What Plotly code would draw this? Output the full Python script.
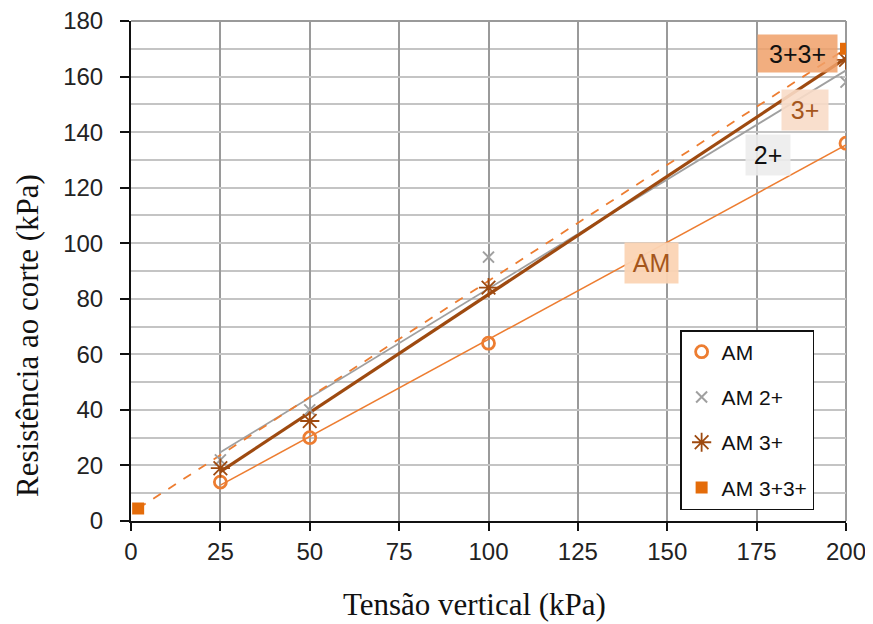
import numpy as np
import plotly.graph_objects as go

# ---- data ----
x_am = [25, 50, 100, 200]
y_am = [14, 30, 64, 136]

x_am2 = [25, 50, 100, 200]
y_am2 = [22, 40, 95, 158]

x_am3 = [25, 50, 100, 200]
y_am3 = [19, 36, 84, 166]

x_am33 = [2, 200]
y_am33 = [4.5, 170]

x_ticks = [0, 25, 50, 75, 100, 125, 150, 175, 200]
y_ticks = [0, 20, 40, 60, 80, 100, 120, 140, 160, 180]

C_AM = "#ED7D31"
C_AM2 = "#A0A0A0"
C_AM3 = "#9E4A10"
C_AM33 = "#E46C0A"


def trend(xs, ys):
    k, b = np.polyfit(xs, ys, 1)
    xe = [min(xs), max(xs)]
    return xe, [k * v + b for v in xe]


fig = go.Figure()

# trend lines
tx, ty = trend(x_am, y_am)
fig.add_trace(go.Scatter(x=tx, y=ty, mode="lines", line=dict(color=C_AM, width=1.5),
                         showlegend=False, hoverinfo="skip"))
tx, ty = trend(x_am2, y_am2)
fig.add_trace(go.Scatter(x=tx, y=ty, mode="lines", line=dict(color=C_AM2, width=1.8),
                         showlegend=False, hoverinfo="skip"))
tx, ty = trend(x_am3, y_am3)
fig.add_trace(go.Scatter(x=tx, y=ty, mode="lines", line=dict(color=C_AM3, width=3.2),
                         showlegend=False, hoverinfo="skip"))
tx, ty = trend(x_am33, y_am33)
fig.add_trace(go.Scatter(x=tx, y=ty, mode="lines", line=dict(color=C_AM, width=1.8, dash="dash"),
                         showlegend=False, hoverinfo="skip"))

# points
fig.add_trace(go.Scatter(x=x_am, y=y_am, mode="markers", name="AM", legendgroup="a",
                         marker=dict(symbol="circle-open", size=12, color=C_AM,
                                     line=dict(width=2.8, color=C_AM))))
fig.add_trace(go.Scatter(x=x_am2, y=y_am2, mode="markers", name="AM 2+", legendgroup="b",
                         marker=dict(symbol="x-thin-open", size=11, color=C_AM2,
                                     line=dict(width=2, color=C_AM2))))
fig.add_trace(go.Scatter(x=x_am3, y=y_am3, mode="markers", name="AM 3+", legendgroup="c",
                         marker=dict(symbol="asterisk-open", size=16, color=C_AM3,
                                     line=dict(width=1.8, color=C_AM3))))
fig.add_trace(go.Scatter(x=x_am33, y=y_am33, mode="markers", name="AM 3+3+", legendgroup="d",
                         marker=dict(symbol="square", size=12, color=C_AM33,
                                     line=dict(width=0))))

# labels (boxes)
labels = [
    dict(x=186.4, y=168.3, text="3+3+", w=79, h=37, bg="rgba(240,160,105,0.85)", fc="#111111"),
    dict(x=188.5, y=148.0, text="3+", w=46, h=40, bg="rgba(248,220,200,0.9)", fc="#A5561C"),
    dict(x=178.2, y=131.7, text="2+", w=44, h=40, bg="rgba(236,236,236,0.9)", fc="#111111"),
    dict(x=145.6, y=92.9, text="AM", w=53, h=40, bg="rgba(251,212,180,0.95)", fc="#A5561C"),
]
for lb in labels:
    fig.add_annotation(x=lb["x"], y=lb["y"], xref="x", yref="y", text=lb["text"],
                       showarrow=False, bgcolor=lb["bg"], borderpad=0,
                       width=lb["w"], height=lb["h"], align="center", valign="middle",
                       font=dict(family="Liberation Sans, Arial", size=25, color=lb["fc"]))

# axis titles as annotations for exact placement
fig.add_annotation(x=-0.1455, y=0.372, xref="paper", yref="paper", text="Resistência ao corte (kPa)",
                   textangle=-90, showarrow=False, xanchor="center", yanchor="middle",
                   font=dict(family="Liberation Serif, Times New Roman", size=31, color="#111111"))
fig.add_annotation(x=0.4804, y=-0.166, xref="paper", yref="paper", text="Tensão vertical (kPa)",
                   showarrow=False, xanchor="center", yanchor="middle",
                   font=dict(family="Liberation Serif, Times New Roman", size=31, color="#111111"))

# the page body adds an 8px offset, so the figure is 8px smaller and margins are shifted
fig.update_layout(
    width=865, height=616,
    margin=dict(l=123, r=27, t=13, b=103, autoexpand=False),
    paper_bgcolor="white", plot_bgcolor="white",
    showlegend=True,
    legend=dict(x=0.768, y=0.382, xanchor="left", yanchor="top",
                bgcolor="white", bordercolor="#111111", borderwidth=1.5,
                font=dict(family="Liberation Sans, Arial", size=21, color="#111111"),
                tracegroupgap=15, itemwidth=30),
    font=dict(family="Liberation Sans, Arial", color="#111111"),
)

fig.update_xaxes(
    range=[0, 200], tickvals=x_ticks, ticktext=[str(v) for v in x_ticks],
    showgrid=True, gridcolor="#9a9a9a", gridwidth=2,
    showline=True, linecolor="#111111", linewidth=2,
    ticks="outside", ticklen=8, tickwidth=2, tickcolor="#111111",
    ticklabeloverflow="allow",
    tickfont=dict(family="Liberation Sans, Arial", size=24, color="#222222"),
    automargin=False, zeroline=False,
)
fig.update_yaxes(
    range=[0, 180], tickvals=y_ticks, ticktext=[str(v) for v in y_ticks],
    showgrid=True, gridcolor="#c4c4c4", gridwidth=2,
    minor=dict(dtick=10, tick0=0, showgrid=True, gridcolor="#c4c4c4", gridwidth=2),
    showline=True, linecolor="#111111", linewidth=2,
    ticks="outside", ticklen=9, tickwidth=2, tickcolor="#111111",
    ticklabelstandoff=12, ticklabeloverflow="allow",
    tickfont=dict(family="Liberation Sans, Arial", size=24, color="#222222"),
    automargin=False, zeroline=False,
)

# right and top grey frame lines
fig.update_layout(shapes=[
    dict(type="line", xref="paper", yref="paper", x0=1, x1=1, y0=0, y1=1,
         line=dict(color="#9a9a9a", width=2), layer="below"),
    dict(type="line", xref="paper", yref="paper", x0=0, x1=1, y0=1, y1=1,
         line=dict(color="#9a9a9a", width=2), layer="below"),
])

fig.write_html("out.html")
